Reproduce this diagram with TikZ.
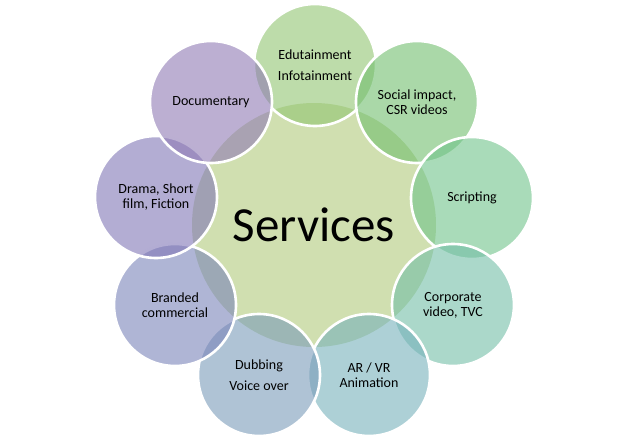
\documentclass[tikz,border=0pt]{standalone}
\usepackage{fontspec}
\setmainfont{Carlito}
\definecolor{cCenter}{RGB}{208,223,176}
\definecolor{cEdu}{RGB}{145,197,113}
\definecolor{cSoc}{RGB}{113,190,110}
\definecolor{cScr}{RGB}{112,195,138}
\definecolor{cCor}{RGB}{115,190,167}
\definecolor{cAR}{RGB}{118,177,187}
\definecolor{cDub}{RGB}{122,155,185}
\definecolor{cBra}{RGB}{122,132,185}
\definecolor{cDra}{RGB}{128,118,182}
\definecolor{cDoc}{RGB}{143,122,180}
\tikzset{
  outer/.style={circle, minimum size=122pt, inner sep=0pt, draw=white, line width=2.6pt,
    fill=#1, fill opacity=0.6, draw opacity=1, text opacity=1, align=center,
    font=\fontsize{14}{15}\selectfont, text=black},
  hub/.style={circle, minimum size=244pt, inner sep=0pt, fill=cCenter,
    font=\fontsize{49}{50}\selectfont, text=black}
}
\begin{document}
\begin{tikzpicture}[x=1pt,y=-1pt]
\useasboundingbox (0,0) rectangle (630,442);
\node[hub] (hub) at (314,225) {Services};
\node[outer=cEdu] (edu) at (315,65) {Edutainment\\[6pt]Infotainment};
\node[outer=cSoc] (soc) at (417,102) {Social impact,\\CSR videos};
\node[outer=cScr] (scr) at (472,198) {Scripting};
\node[outer=cCor] (cor) at (453,305) {Corporate\\video, TVC};
\node[outer=cAR] (ar) at (369,375) {AR / VR\\Animation};
\node[outer=cDub] (dub) at (259,375) {Dubbing\\[6pt]Voice over};
\node[outer=cBra] (bra) at (175,305) {Branded\\commercial};
\node[outer=cDra] (dra) at (156,197) {Drama, Short\\film, Fiction};
\node[outer=cDoc] (doc) at (211,102) {Documentary};
\end{tikzpicture}
\end{document}
